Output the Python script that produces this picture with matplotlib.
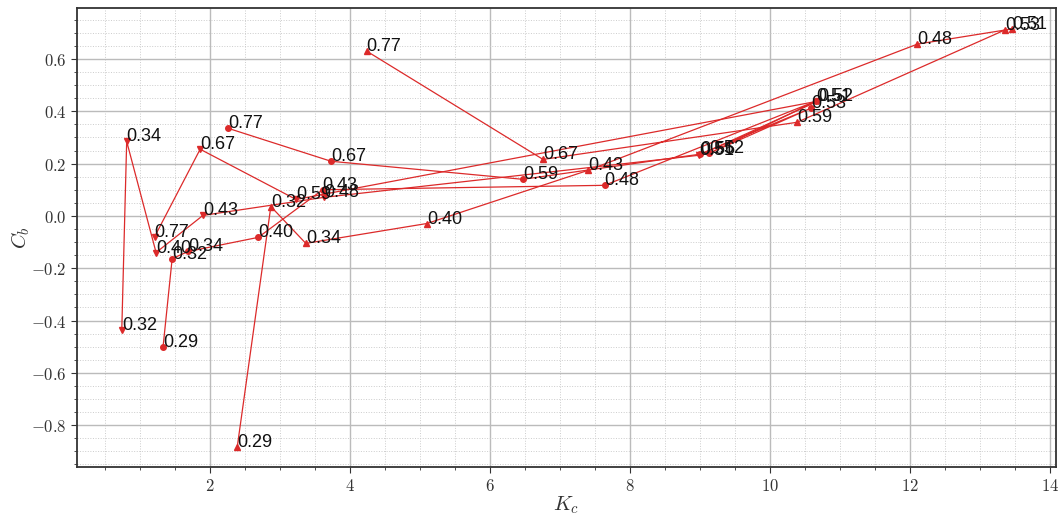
"""
K_c vs C_b, three marker groups joined in label order
"""
import matplotlib
matplotlib.use("Agg")
import matplotlib.pyplot as plt
from matplotlib.ticker import MultipleLocator, FuncFormatter

plt.rcParams['mathtext.fontset'] = 'cm'

# triangle-up group
up_labels = ["0.29", "0.32", "0.34", "0.40", "0.43", "0.48", "0.51", "0.53", "0.59", "0.67", "0.77"]
up_kc = [2.39, 2.87, 3.37, 5.10, 7.40, 12.11, 13.46, 13.36, 10.39, 6.76, 4.24]
up_cb = [-0.883, 0.036, -0.105, -0.029, 0.174, 0.657, 0.715, 0.711, 0.358, 0.216, 0.630]

# circle group
ci_labels = ["0.29", "0.32", "0.34", "0.40", "0.43", "0.48", "0.51", "0.52", "0.53", "0.56", "0.59", "0.67", "0.77"]
ci_kc = [1.33, 1.46, 1.69, 2.69, 3.61, 7.64, 10.66, 9.13, 10.59, 9.00, 6.47, 3.73, 2.26]
ci_cb = [-0.500, -0.163, -0.136, -0.082, 0.100, 0.117, 0.439, 0.239, 0.412, 0.236, 0.140, 0.209, 0.335]

# triangle-down group
dn_labels = ["0.32", "0.34", "0.40", "0.43", "0.48", "0.51", "0.52", "0.59", "0.67", "0.77"]
dn_kc = [0.74, 0.81, 1.23, 1.90, 3.63, 8.99, 10.69, 3.23, 1.86, 1.21]
dn_cb = [-0.435, 0.285, -0.140, 0.002, 0.071, 0.232, 0.439, 0.063, 0.255, -0.079]

red = '#dc2a2a'


def plot_group(ax, kc, cb, labels, marker):
    ax.plot(kc, cb, color=red, linewidth=0.9, marker=marker, markersize=4)
    for x, y, lab in zip(kc, cb, labels):
        ax.text(x, y, lab, fontsize=13, family='Liberation Sans', color='#111111')


def main():
    fig, ax = plt.subplots(figsize=(10.59, 5.15), dpi=100)
    fig.subplots_adjust(left=77/1059, right=1056/1059, top=1-8/515, bottom=1-467/515)

    plot_group(ax, up_kc, up_cb, up_labels, '^')
    plot_group(ax, ci_kc, ci_cb, ci_labels, 'o')
    plot_group(ax, dn_kc, dn_cb, dn_labels, 'v')

    ax.set_xlim(0.1, 14.09)
    ax.set_ylim(-0.96, 0.795)
    ax.xaxis.set_major_locator(MultipleLocator(2))
    ax.xaxis.set_minor_locator(MultipleLocator(0.5))
    ax.yaxis.set_major_locator(MultipleLocator(0.2))
    ax.yaxis.set_minor_locator(MultipleLocator(0.05))
    ax.xaxis.set_major_formatter(FuncFormatter(lambda v, p: r'$%d$' % round(v)))
    ax.yaxis.set_major_formatter(FuncFormatter(lambda v, p: r'$%.1f$' % v))
    ax.tick_params(which='major', labelsize=12, length=4, color='#333333', labelcolor='#333333')
    ax.tick_params(which='minor', length=2, color='#333333')

    ax.grid(which='major', color='#bbbbbb', linewidth=1.0, linestyle='-')
    ax.grid(which='minor', color='#cccccc', linewidth=0.7, linestyle=':')
    ax.set_axisbelow(True)
    for sp in ax.spines.values():
        sp.set_color('#333333')
        sp.set_linewidth(1.3)

    ax.set_xlabel(r'$K_c$', fontsize=15, color='#333333', labelpad=-1)
    ax.set_ylabel(r'$C_b$', fontsize=15, color='#333333', labelpad=-1)

    fig.savefig('out.png', dpi=100)


if __name__ == "__main__":
    main()
